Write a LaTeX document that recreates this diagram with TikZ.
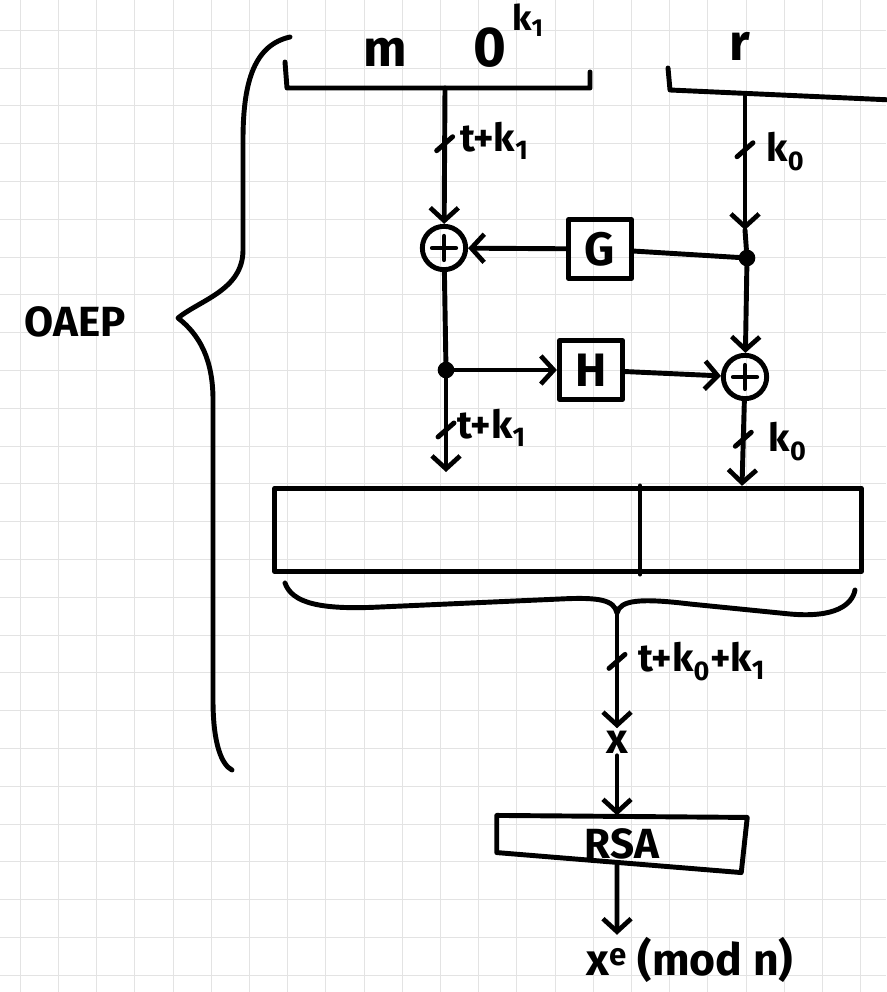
\documentclass[tikz,border=0pt]{standalone}
\usepackage{fontspec}
\setmainfont{Fira Sans}
\usetikzlibrary{arrows.meta,calc}
\begin{document}
\begin{tikzpicture}[x=0.03cm,y=-0.03cm,
  ink/.style={line width=4.2pt, line cap=round, line join=round},
  flow/.style={ink,-{Straight Barb[length=11pt,width=24pt,line width=4pt]}},
  gridline/.style={draw=black!11, line width=0.5pt},
  bigtxt/.style={font=\fontsize{44}{48}\selectfont\bfseries, inner sep=2pt},
  lbl/.style={font=\fontsize{33}{36}\selectfont\bfseries, inner sep=1pt},
  xorn/.style={circle, draw, ink, minimum size=1.3cm, inner sep=0pt,
    path picture={\draw[line width=3.6pt, line cap=round]
      ([yshift=0.36cm]path picture bounding box.center) -- ([yshift=-0.36cm]path picture bounding box.center)
      ([xshift=-0.36cm]path picture bounding box.center) -- ([xshift=0.36cm]path picture bounding box.center);}},
  dotn/.style={circle, fill, minimum size=0.5cm, inner sep=0pt},
  fbox/.style={draw, ink, minimum width=1.9cm, minimum height=1.75cm, font=\fontsize{40}{44}\selectfont\bfseries},
]
\useasboundingbox (0,0) rectangle (886,992);
% grid paper
\foreach \gx in {0,...,23} \draw[gridline] ({20+38.2*\gx},0) -- ({20+38.2*\gx},992);
\foreach \gy in {0,...,25} \draw[gridline] (0,{30+37.8*\gy}) -- (886,{30+37.8*\gy});

% top labels
\node[bigtxt] (m) at (385,52) {m};
\node[bigtxt, font=\fontsize{48}{50}\selectfont\bfseries] (zero) at (490,48) {0};
\node[lbl, font=\fontsize{30}{32}\selectfont\bfseries] (k1) at (528,20) {k\textsubscript{1}};
\node[bigtxt] (r) at (740,46) {r};

% top brackets
\coordinate (mbl) at (287,88);
\coordinate (mbr) at (590,88);
\draw[ink] ($(mbl)+(-2,-26)$) -- (mbl) -- (mbr) -- ++(0,-16);
\coordinate (rbl) at (670,90);
\coordinate (rbr) at (892,100);
\draw[ink] ($(rbl)+(-2,-22)$) -- (rbl) -- (rbr);

\coordinate (ms) at (445,88);
\coordinate (rs) at (745,94);

% nodes
\node[xorn] (xor1) at (444,248) {};
\node[fbox] (G) at (600,249) {G};
\node[dotn] (dot1) at (747,258) {};
\node[dotn] (dotL) at (446,370) {};
\node[fbox] (H) at (591,370) {H};
\node[xorn] (xor2) at (745,377) {};

% left branch
\draw[flow] (ms) -- coordinate[pos=0.41] (tk1) (xor1);
\draw[ink] ($(tk1)+(-8,7)$) -- ($(tk1)+(8,-7)$);
\node[lbl, anchor=west] (l1) at ($(tk1)+(14,-3)$) {t+k\textsubscript{1}};

% right branch
\coordinate (rmid) at (745,230);
\draw[flow] (rs) -- coordinate[pos=0.41] (tk2) (rmid);
\draw[ink] (rmid) -- (dot1);
\draw[ink] ($(tk2)+(-8,7)$) -- ($(tk2)+(8,-7)$);
\node[lbl, anchor=west] (l2) at ($(tk2)+(20,2)$) {k\textsubscript{0}};

% G and H rounds
\draw[flow] (G) -- (xor1);
\draw[ink] (G) -- (dot1);
\draw[ink] (xor1) -- (dotL);
\draw[flow] (dotL) -- (H);
\draw[flow] (H) -- (xor2);
\draw[flow] (dot1) -- (xor2);

% big block
\node[draw, ink, minimum width=17.6cm, minimum height=2.5cm] (blk) at (568,530) {};
\coordinate (dv) at (640,530);
\draw[ink] (blk.north -| dv) -- (blk.south -| dv);

\coordinate (lend) at (446,472);
\draw[flow] (dotL) -- coordinate[pos=0.55] (tk3) (lend);
\draw[ink] ($(tk3)+(-8,7)$) -- ($(tk3)+(8,-7)$);
\node[lbl, anchor=west] (l3) at ($(tk3)+(10,-2)$) {t+k\textsubscript{1}};

\coordinate (rend) at (blk.north -| 742,0);
\draw[flow] (xor2) -- coordinate[pos=0.45] (tk4) (rend);
\draw[ink] ($(tk4)+(-8,7)$) -- ($(tk4)+(8,-7)$);
\node[lbl, anchor=west] (l4) at ($(tk4)+(24,2)$) {k\textsubscript{0}};

% lower brace
\coordinate (btip) at (617,613);
\draw[ink] (285,583) .. controls (292,603) and (320,610) .. (380,607)
  -- (560,599) .. controls (600,597) and (614,600) .. (btip)
  .. controls (620,600) and (640,598) .. (690,604)
  -- (790,614) .. controls (835,618) and (852,605) .. (855,590);

\node[bigtxt, font=\fontsize{36}{40}\selectfont\bfseries] (xn) at (617,742) {x};
\draw[flow] (btip) -- coordinate[pos=0.42] (tk5) (xn.north);
\draw[ink] ($(tk5)+(-8,7)$) -- ($(tk5)+(8,-7)$);
\node[lbl, anchor=west] (l5) at ($(tk5)+(20,0)$) {t+k\textsubscript{0}+k\textsubscript{1}};

% RSA
\node[minimum width=7.5cm, minimum height=1.7cm, inner sep=0pt, font=\fontsize{36}{40}\selectfont\bfseries] (rsa) at (622,844) {RSA};
\draw[ink] (rsa.north west) -- ($(rsa.north east)+(0,2)$) -- ($(rsa.south east)+(-6,0)$) -- ($(rsa.south west)+(0,-20)$) -- cycle;
\draw[flow] (xn.south) -- (rsa.north -| xn);

\node[bigtxt, font=\fontsize{38}{42}\selectfont\bfseries, anchor=west] (out) at (584,960) {x\textsuperscript{e} (mod n)};
\draw[flow] ($(rsa.south west)!0.48!(rsa.south east)+(0,-9)$) -- (out.north -| xn);

% OAEP brace
\coordinate (otip) at (178,318);
\draw[ink] (290,37) .. controls (255,45) and (243,80) .. (243,140)
  -- (243,250) .. controls (243,290) and (200,300) .. (otip)
  .. controls (200,335) and (213,360) .. (213,400)
  -- (213,700) .. controls (213,745) and (222,765) .. (232,770);
\node[bigtxt, font=\fontsize{36}{40}\selectfont\bfseries] (oaep) at (75,322) {OAEP};
\end{tikzpicture}
\end{document}
